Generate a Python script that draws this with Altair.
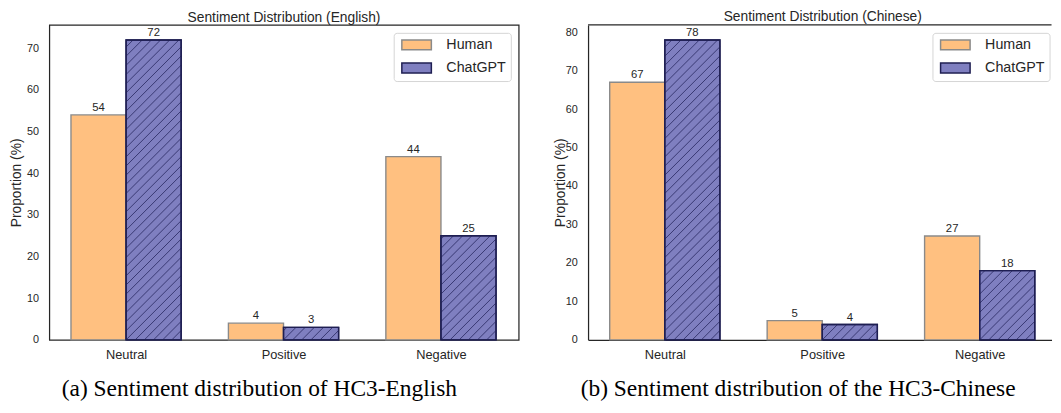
import altair as alt
import pandas as pd

# ---------------- data ----------------
CATEGORIES = ["Neutral", "Positive", "Negative"]
GROUPS = ["Human", "ChatGPT"]

EN_HUMAN = [54, 4, 44]
EN_CHATGPT = [72, 3, 25]
ZH_HUMAN = [67, 5, 27]
ZH_CHATGPT = [78, 4, 18]

EN_YTICKS = [0, 10, 20, 30, 40, 50, 60, 70]
ZH_YTICKS = [0, 10, 20, 30, 40, 50, 60, 70, 80]
X_TICKS = [0, 1, 2]

TITLES = ["Sentiment Distribution (English)", "Sentiment Distribution (Chinese)"]
CAPTIONS = ["(a) Sentiment distribution of HC3-English",
            "(b) Sentiment distribution of the HC3-Chinese"]
Y_TITLE = "Proportion (%)"

# ---------------- style ----------------
FILL = ["#ffc080", "#7f7fc0"]
EDGE = ["#8a8a8a", "#1e1e52"]
HATCH_COLOR = "#26265e"
TEXT = "#262626"
SANS = "Liberation Sans"
SERIF = "Liberation Serif"

H = 320
PXX = 160.0          # pixels per category step
X_MIN = -0.4875
BAR_W = 0.35
HATCH = 9.3          # hatch spacing, px
W_LEFT = 477
W_RIGHT = 471


def make_df(human, chatgpt):
    rows = []
    for i, c in enumerate(CATEGORIES):
        rows.append(dict(cat=c, idx=i, group="Human", value=human[i]))
        rows.append(dict(cat=c, idx=i, group="ChatGPT", value=chatgpt[i]))
    return pd.DataFrame(rows)


def panel(human, chatgpt, yticks, title, caption, width, ytitle_x, open_right, title_dx):
    df = make_df(human, chatgpt)
    ymax = max(human + chatgpt) * 1.05
    pxy = H / ymax
    bar_px = BAR_W * PXX
    xscale = alt.Scale(domain=[X_MIN, X_MIN + width / PXX], nice=False, zero=False)
    yscale = alt.Scale(domain=[0, ymax], nice=False, zero=True)
    label_expr = "[" + ",".join("'%s'" % c for c in CATEGORIES) + "][datum.value]"

    xaxis = alt.Axis(values=X_TICKS, labelExpr=label_expr, grid=False, ticks=False,
                     domain=open_right, domainColor=TEXT, domainWidth=1.25,
                     labelFont=SANS, labelFontSize=13, labelColor=TEXT, labelPadding=9,
                     labelFlush=False, labelOverlap=False,
                     title=caption, titleFont=SERIF, titleFontSize=23.8,
                     titleFontWeight="normal", titleColor="black",
                     titleX=213, titleY=57, titleAlign="center", titleBaseline="alphabetic")
    yaxis = alt.Axis(values=yticks, grid=False, ticks=False,
                     domain=open_right, domainColor=TEXT, domainWidth=1.25,
                     labelFont=SANS, labelFontSize=11, labelColor=TEXT, labelPadding=11,
                     labelOverlap=False,
                     title=Y_TITLE, titleFont=SANS, titleFontSize=14,
                     titleFontWeight="normal", titleColor=TEXT,
                     titleX=ytitle_x, titleY=H / 2, titleAngle=270,
                     titleAlign="center", titleBaseline="middle")
    legend = alt.Legend(title=None, orient="none", legendX=350, legendY=8,
                        padding=5, strokeColor="#d4d4d4", cornerRadius=3,
                        fillColor="white",
                        symbolType="M-3,-1H3V1H-3Z", symbolSize=100,
                        symbolOffset=11,
                        symbolStrokeWidth=1.5, symbolOpacity=1,
                        labelFont=SANS, labelFontSize=14.5, labelColor=TEXT,
                        labelOffset=23, rowPadding=6.5)

    def X(field):
        return alt.X(field, scale=xscale, axis=xaxis, title=caption)

    def Y(field):
        return alt.Y(field, scale=yscale, axis=yaxis, title=Y_TITLE)

    base = alt.Chart(df).transform_calculate(
        x0="datum.idx + (datum.group == 'Human' ? %f : 0)" % (-BAR_W),
        x1="datum.idx + (datum.group == 'Human' ? 0 : %f)" % BAR_W,
    ).transform_calculate(
        xm="(datum.x0 + datum.x1) / 2",
        zero="0",
    )

    bars = base.mark_bar(strokeWidth=1.4).encode(
        x=X("x0:Q"),
        x2="x1:Q",
        y=Y("value:Q"),
        y2="zero:Q",
        fill=alt.Fill("group:N", scale=alt.Scale(domain=GROUPS, range=FILL), legend=legend),
        stroke=alt.Stroke("group:N", scale=alt.Scale(domain=GROUPS, range=EDGE), legend=legend),
    )

    hatch = base.transform_filter("datum.group == 'ChatGPT'").transform_calculate(
        hp="datum.value * %f" % pxy,
    ).transform_calculate(
        cs="sequence(floor(-datum.hp / %f) * %f, %f, %f)" % (HATCH, HATCH, bar_px, HATCH),
    ).transform_flatten(["cs"], as_=["c"]).transform_calculate(
        p1="max(0, datum.c)",
        p2="min(%f, datum.hp + datum.c)" % bar_px,
    ).transform_filter("datum.p1 < datum.p2").transform_calculate(
        hx1="datum.x0 + datum.p1 / %f" % PXX,
        hy1="(datum.p1 - datum.c) / %f" % pxy,
        hx2="datum.x0 + datum.p2 / %f" % PXX,
        hy2="(datum.p2 - datum.c) / %f" % pxy,
    ).mark_rule(color=HATCH_COLOR, strokeWidth=0.8).encode(
        x=X("hx1:Q"),
        y=Y("hy1:Q"),
        x2="hx2:Q",
        y2="hy2:Q",
    )

    # redraw ChatGPT outlines on top of hatch
    outline = base.transform_filter("datum.group == 'ChatGPT'").mark_bar(
        fillOpacity=0, stroke=EDGE[1], strokeWidth=1.4
    ).encode(
        x=X("x0:Q"),
        x2="x1:Q",
        y=Y("value:Q"),
        y2="zero:Q",
    )

    labels = base.mark_text(baseline="alphabetic", dy=-4, font=SANS, fontSize=11.5,
                            color=TEXT).encode(
        x=X("xm:Q"),
        y=Y("value:Q"),
        text="value:Q",
    )

    layers = [bars, hatch, outline, labels]
    props = dict(width=width, height=H,
                 title=alt.TitleParams(title, font=SANS, fontSize=14, fontWeight="normal",
                                       color=TEXT, anchor="middle", offset=0, dx=title_dx))
    if open_right:
        top_rule = alt.Chart(alt.Data(values=[{"a": 1}])).mark_rule(
            color=TEXT, strokeWidth=1.25
        ).encode(x=alt.value(0), x2=alt.value(width), y=alt.value(0))
        layers.append(top_rule)
        props["view"] = alt.ViewBackground(stroke="transparent")
    return alt.layer(*layers).properties(**props)


left = panel(EN_HUMAN, EN_CHATGPT, EN_YTICKS, TITLES[0], CAPTIONS[0], W_LEFT, -33, False, 0)
right = panel(ZH_HUMAN, ZH_CHATGPT, ZH_YTICKS, TITLES[1], CAPTIONS[1], W_RIGHT, -27.5, True, 3)

chart = alt.hconcat(left, right, spacing=33.5).properties(
    padding={"left": 1, "top": -2, "right": 0, "bottom": 0},
    background="white",
).configure_view(stroke=TEXT, strokeWidth=1.25).resolve_scale(
    fill="independent", stroke="independent", x="independent", y="independent"
)

chart.save("out.html", embed_options={"renderer": "svg", "actions": False})
